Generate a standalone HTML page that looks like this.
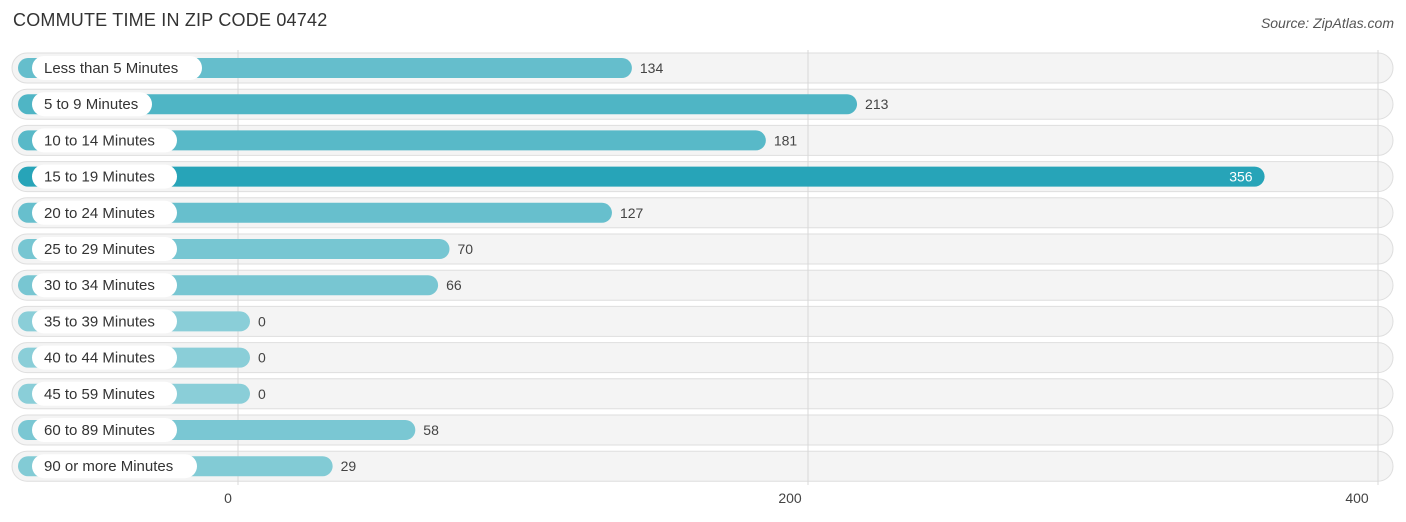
<!DOCTYPE html>
<html><head><meta charset="utf-8"><style>
body{margin:0;background:#fff;font-family:"Liberation Sans",sans-serif;}
#t{position:absolute;left:13px;top:10px;font-size:18px;color:#333;letter-spacing:0.2px}
#s{position:absolute;right:12px;top:15px;font-size:14px;color:#555;font-style:italic}
</style></head><body>
<div id="t">COMMUTE TIME IN ZIP CODE 04742</div>
<div id="s">Source: ZipAtlas.com</div>
<svg id="c" width="1406" height="522" style="position:absolute;left:0;top:0"></svg>
<script>
const categories=["Less than 5 Minutes","5 to 9 Minutes","10 to 14 Minutes","15 to 19 Minutes","20 to 24 Minutes","25 to 29 Minutes","30 to 34 Minutes","35 to 39 Minutes","40 to 44 Minutes","45 to 59 Minutes","60 to 89 Minutes","90 or more Minutes"];
const values=[134,213,181,356,127,70,66,0,0,0,58,29];
const tickValues=[0,200,400];
const labelWidths=[170,120,145,145,145,145,145,145,145,145,145,165];
const NS="http://www.w3.org/2000/svg";
const svg=document.getElementById('c');
const x0=238,x1=1378,maxV=400;
function xs(v){return x0+(v/maxV)*(x1-x0);}
function barEnd(v){return xs(v)+12;}
function ys(i){return 68+i*36.2;}
function mk(t,a){const e=document.createElementNS(NS,t);for(const k in a)e.setAttribute(k,a[k]);svg.appendChild(e);return e;}
function lerp(a,b,t){return Math.round(a+(b-a)*t);}
const vmax=Math.max(...values);
categories.forEach((c,i)=>{
  const y=ys(i);
  const bg=mk('rect',{x:12,y:y-15,width:1381,height:30,rx:15,fill:'#f4f4f4',stroke:'#dedede','stroke-width':1});
  
  
});
tickValues.forEach(v=>{
  const l=mk('line',{x1:xs(v),x2:xs(v),y1:50,y2:485,stroke:'#d8d8d8','stroke-width':1});
  
  
  const t=mk('text',{x:xs(v)-10+(v===0?0:(v===400?-11:-8)),y:503,'font-size':14,fill:'#444','text-anchor':'middle'});
  t.textContent=v;
  
  
});
categories.forEach((c,i)=>{
  const y=ys(i),v=values[i],t=v/vmax;
  const col=`rgb(${lerp(138,39,t)},${lerp(206,164,t)},${lerp(216,184,t)})`;
  const w=barEnd(v)-18;
  const b=mk('rect',{x:18,y:y-10,width:w,height:20,rx:10,fill:col});
  
  
  const lw=labelWidths[i];
  const p=mk('rect',{x:32,y:y-12,width:lw,height:24,rx:12,fill:'#fff'});
  
  
  const lt=mk('text',{x:44,y:y+5,'font-size':15,fill:'#333'});
  lt.textContent=c;
  
  
  const inside=v===vmax;
  const vt=mk('text',{x:inside?barEnd(v)-12:barEnd(v)+8,y:y+5,'font-size':14,fill:inside?'#fff':'#444','text-anchor':inside?'end':'start'});
  vt.textContent=v;
  
  
});
</script>
</body></html>
